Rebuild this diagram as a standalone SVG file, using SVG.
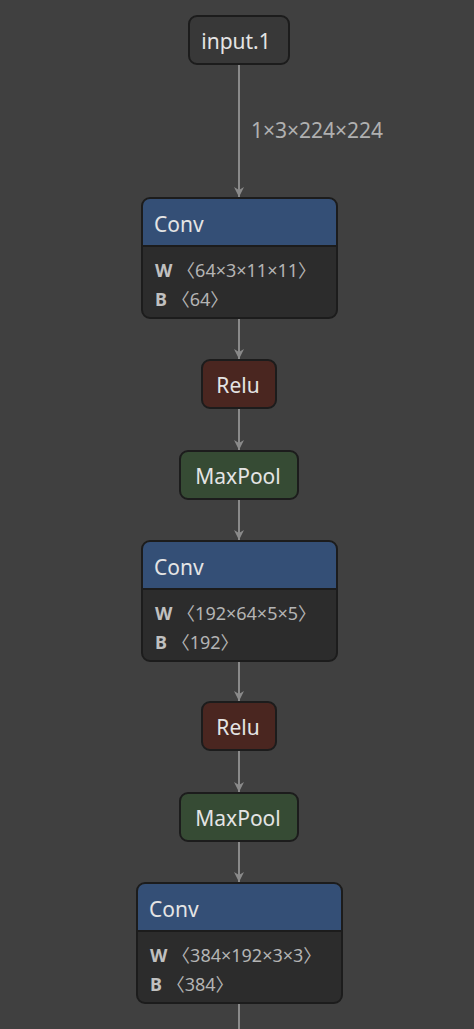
<svg xmlns="http://www.w3.org/2000/svg" width="474" height="1029" viewBox="0 0 474 1029">
<style>
.bg{fill:#404040}
.node{stroke:#1c1c1c;stroke-width:2}
.plain{fill:#383838}
.hdr{fill:#344f76}
.body{fill:#2c2c2c}
.relu{fill:#4a2620}
.pool{fill:#364b34}
.t{font-family:"Noto Sans","Open Sans","DejaVu Sans",sans-serif;font-size:21px;fill:#e4e4e4}
.a{font-family:"Noto Sans","Noto Sans CJK SC","DejaVu Sans",sans-serif;font-size:18px;fill:#b4b4b4}
.ab{font-weight:bold;fill:#c0c0c0}
.lbl{font-family:"Noto Sans","Open Sans","DejaVu Sans",sans-serif;font-size:21px;fill:#b0b0b0}
.edge{stroke:#8a8a8a;stroke-width:2;fill:none}
.sep{stroke:#1c1c1c;stroke-width:2}
</style>
<defs>
<marker id="arr2" viewBox="0 0 10 10" refX="10" refY="5" markerWidth="10" markerHeight="10" markerUnits="userSpaceOnUse" orient="auto">
<path d="M0,0 L10,5 L0,10 L3,5 z" fill="#8a8a8a"/>
</marker>
</defs>
<rect class="bg" x="0" y="0" width="474" height="1029"/>
<g id="edges">
<line class="edge" x1="239" y1="64" x2="239" y2="197" marker-end="url(#arr2)"/>
<text class="lbl" x="251" y="138">1×3×224×224</text>
<line class="edge" x1="239" y1="318" x2="239" y2="359" marker-end="url(#arr2)"/>
<line class="edge" x1="239" y1="408" x2="239" y2="450" marker-end="url(#arr2)"/>
<line class="edge" x1="239" y1="499" x2="239" y2="540" marker-end="url(#arr2)"/>
<line class="edge" x1="239" y1="661" x2="239" y2="701" marker-end="url(#arr2)"/>
<line class="edge" x1="239" y1="750" x2="239" y2="792" marker-end="url(#arr2)"/>
<line class="edge" x1="239" y1="841" x2="239" y2="882" marker-end="url(#arr2)"/>
<line class="edge" x1="239" y1="1003" x2="239" y2="1029"/>
</g>
<g id="input">
<rect class="node plain" x="189" y="16" width="100" height="48" rx="8"/>
<text class="t" x="236" y="49" text-anchor="middle">input.1</text>
</g>
<g id="conv1">
<rect class="node body" x="142" y="198" width="195" height="120" rx="8"/>
<path class="hdr" d="M150,199 H329 a7,7 0 0 1 7,7 V246 H143 V206 a7,7 0 0 1 7,-7 z"/>
<line class="sep" x1="143" y1="246" x2="336" y2="246"/>
<text class="t" x="154" y="232">Conv</text>
<text class="a" x="155" y="277"><tspan class="ab">W</tspan> 〈64×3×11×11〉</text>
<text class="a" x="155" y="306"><tspan class="ab">B</tspan> 〈64〉</text>
</g>
<g id="relu1">
<rect class="node relu" x="202" y="360" width="74" height="48" rx="8"/>
<text class="t" x="238" y="393" text-anchor="middle">Relu</text>
</g>
<g id="pool1">
<rect class="node pool" x="180" y="451" width="118" height="48" rx="8"/>
<text class="t" x="238" y="484" text-anchor="middle">MaxPool</text>
</g>
<g id="conv2">
<rect class="node body" x="142" y="541" width="195" height="120" rx="8"/>
<path class="hdr" d="M150,542 H329 a7,7 0 0 1 7,7 V589 H143 V549 a7,7 0 0 1 7,-7 z"/>
<line class="sep" x1="143" y1="589" x2="336" y2="589"/>
<text class="t" x="154" y="575">Conv</text>
<text class="a" x="155" y="620"><tspan class="ab">W</tspan> 〈192×64×5×5〉</text>
<text class="a" x="155" y="649"><tspan class="ab">B</tspan> 〈192〉</text>
</g>
<g id="relu2">
<rect class="node relu" x="202" y="702" width="74" height="48" rx="8"/>
<text class="t" x="238" y="735" text-anchor="middle">Relu</text>
</g>
<g id="pool2">
<rect class="node pool" x="180" y="793" width="118" height="48" rx="8"/>
<text class="t" x="238" y="826" text-anchor="middle">MaxPool</text>
</g>
<g id="conv3">
<rect class="node body" x="137" y="883" width="205" height="120" rx="8"/>
<path class="hdr" d="M145,884 H334 a7,7 0 0 1 7,7 V931 H138 V891 a7,7 0 0 1 7,-7 z"/>
<line class="sep" x1="138" y1="931" x2="341" y2="931"/>
<text class="t" x="149" y="917">Conv</text>
<text class="a" x="150" y="962"><tspan class="ab">W</tspan> 〈384×192×3×3〉</text>
<text class="a" x="150" y="991"><tspan class="ab">B</tspan> 〈384〉</text>
</g>
</svg>
